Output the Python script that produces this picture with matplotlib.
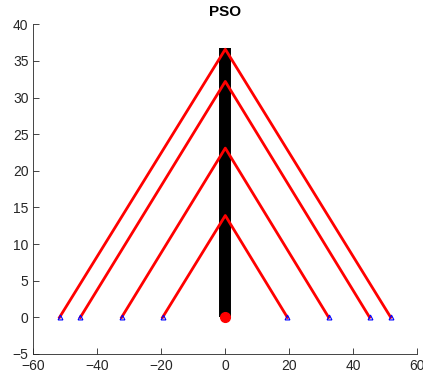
import matplotlib
matplotlib.use("Agg")
import matplotlib.pyplot as plt

# valores
base_left = [-51.8, -45.3, -32.4, -19.6]
base_right = [51.7, 45.1, 32.3, 19.4]
peaks = [36.6, 32.2, 23.1, 13.9]
tower_height = 36.8

plt.rcParams['font.family'] = ['Liberation Sans', 'DejaVu Sans']

fig = plt.figure(figsize=(4.23, 3.74), dpi=100)
ax = fig.add_axes([0.0787, 0.0535, 0.9865 - 0.0787, 0.935 - 0.0535])

# torre
ax.plot([0, 0], [0, tower_height], color='black', linewidth=8.6, solid_capstyle='butt', zorder=2)

# cables
for xl, xr, h in zip(base_left, base_right, peaks):
    ax.plot([xl, 0, xr], [0, h, 0], color='red', linewidth=2, zorder=3)

# anclajes
ax.plot(base_left + base_right, [0] * 8, linestyle='none', marker='^', markersize=3.5,
        markerfacecolor='none', markeredgecolor='blue', markeredgewidth=0.8, zorder=4)
ax.plot([0], [0], 'o', color='red', markersize=7, zorder=5)

ax.set_xlim(-60, 60)
ax.set_ylim(-5, 40)
ax.set_xticks(range(-60, 61, 20))
ax.set_yticks(range(-5, 41, 5))
ax.tick_params(direction='in', length=4, width=0.6, labelsize=10, colors='#262626', top=False, right=False)
for s in ax.spines.values():
    s.set_linewidth(0.6)
    s.set_color('#262626')
ax.spines['top'].set_visible(False)
ax.spines['right'].set_visible(False)
ax.set_title("PSO", fontsize=11, fontweight='bold', pad=6)

plt.savefig("out.png", dpi=100)
